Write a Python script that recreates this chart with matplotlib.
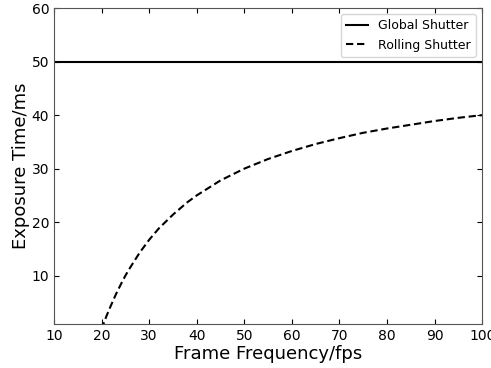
import matplotlib
matplotlib.use('Agg')
import matplotlib.pyplot as plt

# frame frequency (fps) and exposure time (ms)
freq = [20, 21, 22, 23, 24, 25, 26, 28, 30, 32, 35, 38, 40, 45, 50, 55, 60, 65, 70, 75, 80, 85, 90, 95, 100]
global_exp = [50] * len(freq)
rolling_exp = [0.0, 2.4, 4.5, 6.5, 8.3, 10.0, 11.5, 14.3, 16.7, 18.8, 21.4, 23.7, 25.0, 27.8,
               30.0, 31.8, 33.3, 34.6, 35.7, 36.7, 37.5, 38.2, 38.9, 39.5, 40.0]
x_full = [10, 100]

fig = plt.figure(figsize=(4.91, 3.68), dpi=100)
ax = fig.add_axes([0.11, 0.12, 0.872, 0.858])

ax.plot(x_full, [50, 50], 'k-', lw=1.5, label='Global Shutter')
ax.plot(freq, rolling_exp, 'k--', lw=1.5, dashes=(3.5, 1.8), label='Rolling Shutter')

ax.set_xlim(10, 100)
ax.set_ylim(1, 60)
ax.set_xticks(range(10, 101, 10))
ax.set_yticks(range(10, 61, 10))
ax.tick_params(direction='in', top=True, right=True, labelsize=10)
for sp in ax.spines.values():
    sp.set_color('#555555')

ax.set_xlabel('Frame Frequency/fps', fontsize=13, labelpad=2)
ax.set_ylabel('Exposure Time/ms', fontsize=13, labelpad=1)
ax.legend(loc='upper right', fontsize=9, handlelength=1.8)

fig.savefig('out.png', dpi=100)
